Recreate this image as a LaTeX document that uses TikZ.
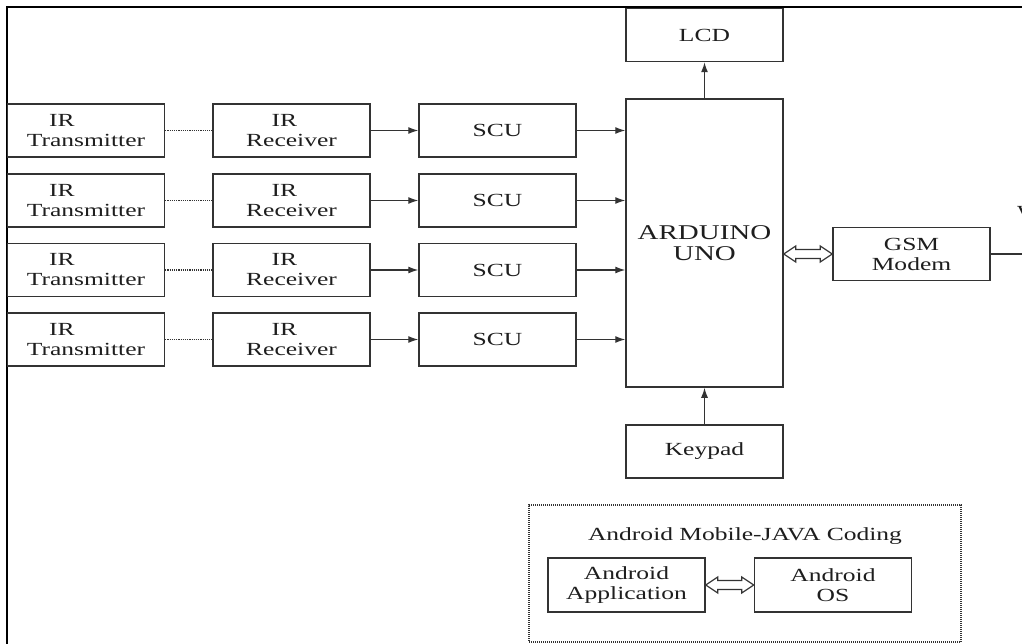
\documentclass[tikz,border=0pt]{standalone}
\usepackage{fontspec}
\setmainfont[FakeStretch=1.38]{Liberation Serif}
\usetikzlibrary{arrows.meta,calc}
\definecolor{linegray}{HTML}{333333}
\definecolor{textgray}{HTML}{1E1E1E}
\tikzset{
  blk/.style={draw=linegray, line width=1.5pt, minimum width=157pt, minimum height=53pt,
    inner sep=0pt, align=center, font=\fontsize{18.5}{20}\selectfont, text=textgray},
  arr/.style={-{Latex[length=10pt,width=7pt]}, line width=1.3pt, draw=linegray},
  dotline/.style={line width=1.3pt, draw=linegray, dash pattern=on 1.2pt off 1pt},
  hollow/.style={draw=linegray, line width=1.2pt, fill=white, line join=miter}
}
\newcommand{\hollowdbl}[2]{%
  \draw[hollow] let \p1=(#1.east), \p2=(#2.west) in
    (\x1,\y2) -- (\x1+12pt,\y2+8pt) -- (\x1+12pt,\y2+4.5pt) -- (\x2-12pt,\y2+4.5pt)
    -- (\x2-12pt,\y2+8pt) -- (\x2,\y2) -- (\x2-12pt,\y2-8pt) -- (\x2-12pt,\y2-4.5pt)
    -- (\x1+12pt,\y2-4.5pt) -- (\x1+12pt,\y2-8pt) -- cycle;}
\begin{document}
\begin{tikzpicture}[x=1pt,y=-1pt]
\useasboundingbox (0,0) rectangle (1022,644);
\fill[white] (0,0) rectangle (1022,644);
% frame
\draw[line width=2pt, black] (7,646) -- (7,7) -- (1024,7);

% rows
\foreach \i/\y in {1/130.5,2/200.5,3/270,4/339.5}{
  \node[blk] (tx\i) at (86,\y) {IR\hspace*{48pt}\\Transmitter};
  \node[blk] (rx\i) at (291.5,\y) {IR\hspace*{14pt}\\Receiver};
  \node[blk] (scu\i) at (497.5,\y) {SCU};
}
\node[blk, minimum height=288pt, font=\fontsize{21}{21.5}\selectfont] (ard) at (704.5,243) {ARDUINO\\UNO};
\node[blk] (lcd) at (704.5,35) {LCD};
\node[blk] (key) at (704.5,451.5) {Keypad};
\node[blk] (gsm) at (911.5,254) {GSM\\Modem};
\node[font=\fontsize{18.5}{20}\selectfont, text=textgray, anchor=base west, inner sep=0pt] (wtxt) at (1017,219) {W};
\coordinate (gout) at (1030,254);

\foreach \i in {1,2,3,4}{
  \draw[dotline] (tx\i.east) -- (rx\i.west);
  \draw[arr] (rx\i.east) -- (scu\i.west);
  \draw[arr] (scu\i.east) -- (scu\i.east -| ard.west);
}
\draw[arr] (ard.north) -- (lcd.south);
\draw[arr] (key.north) -- (ard.south);
\hollowdbl{ard}{gsm}
\draw[line width=1.3pt, draw=linegray] (gsm.east) -- (gout);

% android group
\node[draw=linegray, line width=1.2pt, dash pattern=on 1pt off 1pt, minimum width=432pt, minimum height=137pt, inner sep=0pt] (grp) at (745,573.5) {};
\node[font=\fontsize{18.5}{20}\selectfont, text=textgray, inner sep=0pt] (title) at (745,536) {Android Mobile-JAVA Coding};
\node[blk, minimum height=54pt] (app) at (626.5,585) {Android\\Application};
\node[blk, minimum height=54pt] (os) at (833,585) {Android\\OS};
\hollowdbl{app}{os}
\end{tikzpicture}
\end{document}
